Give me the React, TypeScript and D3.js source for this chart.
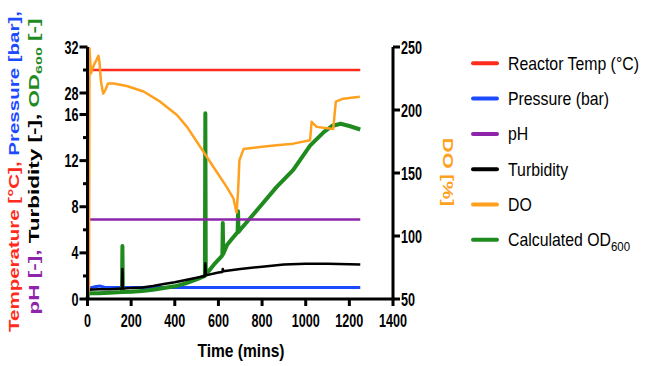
import React from 'react';
import * as d3 from 'd3';

// axis ticks
const timeTicks = [0, 200, 400, 600, 800, 1000, 1200, 1400];
const lowTicks = [0, 4, 8, 12, 16];
const highTicks = [28, 32];
const lowMinor = [2, 6, 10, 14];
const highMinor = [30];
const doTicks = [50, 100, 150, 200, 250];

// series, [time (mins), value]
const tempData: [number, number][] = [
  [0, 29.6], [3, 30.3], [8, 29.8], [14, 30.2], [20, 30], [1250, 30],
];
const pressureData: [number, number][] = [
  [0, 0], [4, 0.9], [20, 1.0], [40, 1.08], [60, 1.12], [80, 1.0], [400, 1.0], [1250, 1.0],
];
const phData: [number, number][] = [
  [0, 6.9], [1250, 6.9],
];
const turbidityData: [number, number][] = [
  [0, 0.3], [4, 0.8], [50, 0.85], [100, 0.85], [158, 0.9], [160, 2.6], [162, 0.9],
  [200, 0.95], [250, 1.0], [300, 1.12], [350, 1.3], [400, 1.45], [450, 1.65],
  [500, 1.85], [538, 2.0], [540, 3.1], [542, 2.05], [600, 2.3], [618, 2.35],
  [620, 2.6], [622, 2.4], [700, 2.6], [800, 2.8], [900, 3.0], [1000, 3.05],
  [1100, 3.05], [1250, 3.0],
];
const doData: [number, number][] = [
  [0, 50], [7, 60], [9, 249], [12, 240], [16, 229], [22, 232], [30, 236], [42, 240],
  [50, 243], [55, 238], [62, 222], [72, 213], [82, 216], [94, 221], [120, 221],
  [180, 219], [257, 214.7], [333, 206.6], [410, 196], [456, 186.6], [517, 170.6],
  [578, 154.6], [639, 138.6], [669, 129.6], [683, 118.6], [690, 135], [696, 160],
  [715, 169], [791, 170.6], [866, 172], [943, 173.3], [1020, 176], [1027, 190.6],
  [1050, 186.6], [1126, 185], [1138, 206.6], [1172, 209], [1248, 210.6],
];
const odData: [number, number][] = [
  [0, 0.1], [4, 0.5], [50, 0.5], [100, 0.55], [158, 0.6], [160, 4.6], [162, 0.6],
  [200, 0.62], [250, 0.7], [300, 0.8], [350, 0.95], [400, 1.1], [450, 1.35],
  [500, 1.7], [538, 2.0], [540, 16.1], [542, 2.1], [580, 3.0], [610, 3.6],
  [618, 3.8], [620, 6.6], [622, 3.9], [640, 4.7], [670, 5.4], [688, 5.8],
  [690, 7.6], [692, 5.8], [700, 6.0], [745, 7.0], [790, 8.0], [866, 9.7],
  [943, 11.2], [1020, 13.3], [1084, 14.5], [1120, 15.0], [1160, 15.2],
  [1200, 15.0], [1250, 14.7],
];

const RED = '#ff2b1c';
const BLUE = '#1c4bff';
const PURPLE = '#8e24aa';
const BLACK = '#000000';
const ORANGE = '#ffa01e';
const GREEN = '#1f8b1f';

const legendItems = [
  { label: 'Reactor Temp (°C)', color: RED },
  { label: 'Pressure (bar)', color: BLUE },
  { label: 'pH', color: PURPLE },
  { label: 'Turbidity', color: BLACK },
  { label: 'DO', color: ORANGE },
  { label: 'Calculated OD', sub: '600', color: GREEN },
];

const FONT = 'Liberation Sans, Arial, sans-serif';

// text squeezed sideways, like the source image
function SText(props: any) {
  const { x, y, sx = 1, rot = 0, children, ...rest } = props;
  return (
    <text transform={`translate(${x},${y}) scale(${sx},1) rotate(${rot})`} fontFamily={FONT} {...rest}>
      {children}
    </text>
  );
}

export default function App() {
  const W = 650, H = 366;

  const x = d3.scaleLinear().domain([0, 1400]).range([87.5, 393]);
  const yLow = d3.scaleLinear().domain([0, 16]).range([299, 114.5]);
  const yHigh = d3.scaleLinear().domain([28, 32]).range([93, 47]);
  const yDO = d3.scaleLinear().domain([50, 250]).range([299, 47]);

  const lineOf = (ys: d3.ScaleLinear<number, number>) =>
    d3.line<[number, number]>().x(d => x(d[0])).y(d => ys(d[1]));

  const axisTop = yHigh(32);
  const axisBottom = yLow(0);
  const left = x(0);
  const right = x(1400);

  const tickFont = { fontSize: 18, fontWeight: 700, sx: 0.7 };

  return (
    <svg width={W} height={H} style={{ position: 'absolute', left: 0, top: 0, background: '#fff' }}>
      {/* series */}
      <g fill="none" strokeLinejoin="round">
        <path d={lineOf(yLow)(pressureData) || ''} stroke={BLUE} strokeWidth={3} />
        <path d={lineOf(yLow)(odData) || ''} stroke={GREEN} strokeWidth={4} />
        <path d={lineOf(yLow)(turbidityData) || ''} stroke={BLACK} strokeWidth={2.5} />
        <path d={lineOf(yLow)(phData) || ''} stroke={PURPLE} strokeWidth={2.5} />
        <path d={lineOf(yHigh)(tempData) || ''} stroke={RED} strokeWidth={2.5} />
        <path d={lineOf(yDO)(doData) || ''} stroke={ORANGE} strokeWidth={2.5} />
      </g>

      {/* axes */}
      <g stroke="#000" strokeWidth={3}>
        <line x1={left} x2={left} y1={axisTop} y2={axisBottom + 1.5} />
        <line x1={right} x2={right} y1={yDO(250)} y2={axisBottom + 1.5} />
        <line x1={left - 1.5} x2={right + 1.5} y1={axisBottom} y2={axisBottom} />
        {lowTicks.map(t => <line key={'l' + t} x1={left - 8} x2={left} y1={yLow(t)} y2={yLow(t)} />)}
        {highTicks.map(t => <line key={'h' + t} x1={left - 8} x2={left} y1={yHigh(t)} y2={yHigh(t)} />)}
        {lowMinor.map(t => <line key={'lm' + t} x1={left - 4.5} x2={left} y1={yLow(t)} y2={yLow(t)} />)}
        {highMinor.map(t => <line key={'hm' + t} x1={left - 4.5} x2={left} y1={yHigh(t)} y2={yHigh(t)} />)}
        {timeTicks.map(t => <line key={'x' + t} x1={x(t)} x2={x(t)} y1={axisBottom} y2={axisBottom + 7} />)}
        {doTicks.map(t => <line key={'r' + t} x1={right} x2={right + 7} y1={yDO(t)} y2={yDO(t)} />)}
      </g>

      {/* tick labels */}
      <g fill="#000">
        {lowTicks.map(t => (
          <SText key={'lt' + t} x={left - 9} y={yLow(t) + 6.5} textAnchor="end" {...tickFont}>{t}</SText>
        ))}
        {highTicks.map(t => (
          <SText key={'ht' + t} x={left - 9} y={yHigh(t) + 6.5} textAnchor="end" {...tickFont}>{t}</SText>
        ))}
        {timeTicks.map(t => (
          <SText key={'xt' + t} x={x(t)} y={326.5} textAnchor="middle" {...tickFont}>{t}</SText>
        ))}
        {doTicks.map(t => (
          <SText key={'rt' + t} x={right + 8} y={yDO(t) + 6.5} textAnchor="start" {...tickFont}>{t}</SText>
        ))}
      </g>

      {/* axis titles */}
      <SText x={241} y={357} textAnchor="middle" fontSize={19} fontWeight={700} sx={0.82}>Time (mins)</SText>
      <SText x={19} y={171.5} rot={-90} textAnchor="middle" fontSize={20.5} fontWeight={700} sx={0.68}>
        <tspan fill={RED}>Temperature [°C], </tspan>
        <tspan fill={BLUE}>Pressure [bar],</tspan>
      </SText>
      <SText x={39} y={166.5} rot={-90} textAnchor="middle" fontSize={22.5} fontWeight={700} sx={0.62}>
        <tspan fill={PURPLE}>pH [-], </tspan>
        <tspan fill={BLACK}>Turbidity [-], </tspan>
        <tspan fill={GREEN}>OD</tspan>
        <tspan fill={GREEN} fontSize={16} dy={5}>600</tspan>
        <tspan fill={GREEN} dy={-5}> [-]</tspan>
      </SText>
      <SText x={443} y={172} rot={90} textAnchor="middle" fontSize={20.5} fontWeight={700} sx={0.68} fill={ORANGE}>DO [%]</SText>

      {/* legend */}
      <g>
        {legendItems.map((d, i) => {
          const ly = 63.3 + i * 35.3;
          return (
            <g key={d.label}>
              <line x1={473} x2={497} y1={ly} y2={ly} stroke={d.color} strokeWidth={4} strokeLinecap="round" />
              <SText x={508} y={ly + 6.5} fontSize={18} sx={0.88} fill="#000">
                {d.label}
                {d.sub ? <tspan fontSize={13} dy={5}>{d.sub}</tspan> : null}
              </SText>
            </g>
          );
        })}
      </g>
    </svg>
  );
}
